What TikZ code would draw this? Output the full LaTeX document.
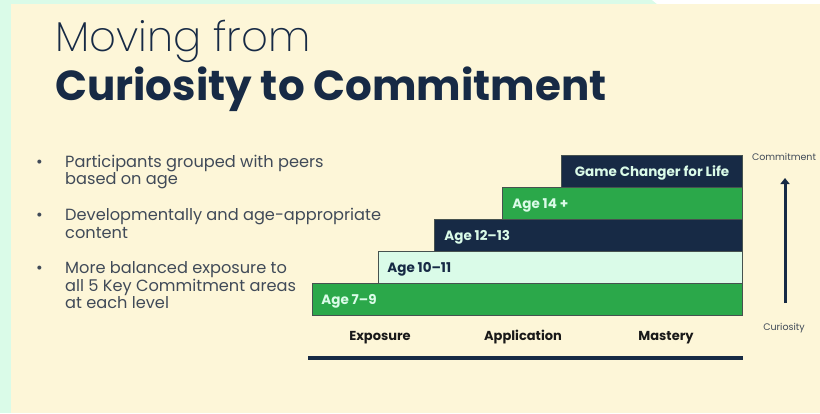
\documentclass[tikz,border=0pt]{standalone}
\usepackage{fontspec}
\setmainfont{Poppins}
\newfontfamily\lightfont{Poppins ExtraLight}
\usepackage{xcolor}
\usetikzlibrary{positioning,arrows.meta}

\definecolor{cream}{HTML}{FDF6D8}
\definecolor{mint}{HTML}{DAFBE8}
\definecolor{leaf}{HTML}{2BA84A}
\definecolor{navy}{HTML}{172A45}
\definecolor{slate}{HTML}{404A58}
\definecolor{edge}{HTML}{46524F}

\tikzset{
  bar/.style={draw=edge, line width=0.8pt, minimum height=32pt, inner sep=0pt, anchor=south east},
  agelabel/.style={font=\fontsize{13.5}{16}\selectfont\bfseries, inner sep=0pt, text height=9.5pt, text depth=0pt},
  stage/.style={font=\fontsize{13}{15}\selectfont\bfseries, text=black!90, inner sep=0pt, text height=9pt, text depth=0pt},
  axislabel/.style={font=\fontsize{9.5}{11}\selectfont, text=slate, inner sep=0pt, text height=6.6pt, text depth=0pt},
}

\begin{document}
\begin{tikzpicture}[x=1pt,y=-1pt]
\useasboundingbox (0,0) rectangle (820,413);
% page background
\fill[mint] (0,0) rectangle (820,413);
\fill[white] (652,0) -- (820,0) -- (820,4) -- (657,4) -- cycle;
\fill[cream] (11,4) rectangle (820,413);

% title
\node[anchor=base west, inner sep=0pt, text=navy, font=\fontsize{41.8}{48}\selectfont\lightfont] (title1) at (55,51) {Moving from};
\node[anchor=base west, inner sep=0pt, text=navy, font=\fontsize{42}{50}\selectfont\bfseries] (title2) at (55,100) {Curiosity to Commitment};

% bullet points
\node[anchor=north west, inner sep=0pt, text=slate, font=\fontsize{16.2}{17.8}\selectfont] (points) at (36,154.5) {
\begin{tabular}{@{}p{29pt}@{}l@{}}
\textbullet & Participants grouped with peers \\
 & based on age \\[18pt]
\textbullet & Developmentally and age-appropriate \\
 & content \\[17pt]
\textbullet & More balanced exposure to \\
 & all 5 Key Commitment areas \\
 & at each level
\end{tabular}
};

% staircase of age groups
\node[bar, fill=leaf, minimum width=430pt] (age7) at (743,316) {};
\node[bar, fill=mint, minimum width=364pt] (age10) at (743,284) {};
\node[bar, fill=navy, minimum width=308pt] (age12) at (743,252) {};
\node[bar, fill=leaf, minimum width=240pt] (age14) at (743,220) {};
\node[bar, fill=navy, minimum width=181pt] (gc) at (743,188) {};

\node[agelabel, text=mint, right=9pt of age7.west] (age7txt) {Age 7--9};
\node[agelabel, text=navy, right=9pt of age10.west] (age10txt) {Age 10--11};
\node[agelabel, text=mint, right=10pt of age12.west] (age12txt) {Age 12--13};
\node[agelabel, text=mint, right=10pt of age14.west] (age14txt) {Age 14 +};
\node[agelabel, text=mint] (gctxt) at (gc.center) {Game Changer for Life};

% stages
\node[stage] (exposure) at (380,335.5) {Exposure};
\node[stage] (application) at (523,335.5) {Application};
\node[stage] (mastery) at (666,335.5) {Mastery};
\coordinate (ruleL) at (308,357.5);
\coordinate (ruleR) at (743,357.5);
\draw[navy, line width=4pt] (ruleL) -- (ruleR);

% curiosity -> commitment
\node[axislabel] (commit) at (784,157.5) {Commitment};
\node[axislabel] (curious) at (784,327) {Curiosity};
\coordinate (low) at (785,303);
\coordinate (high) at (785,178);
\draw[navy, line width=3pt, -{Triangle[width=9pt,length=6pt]}] (low) -- (high);
\end{tikzpicture}
\end{document}
